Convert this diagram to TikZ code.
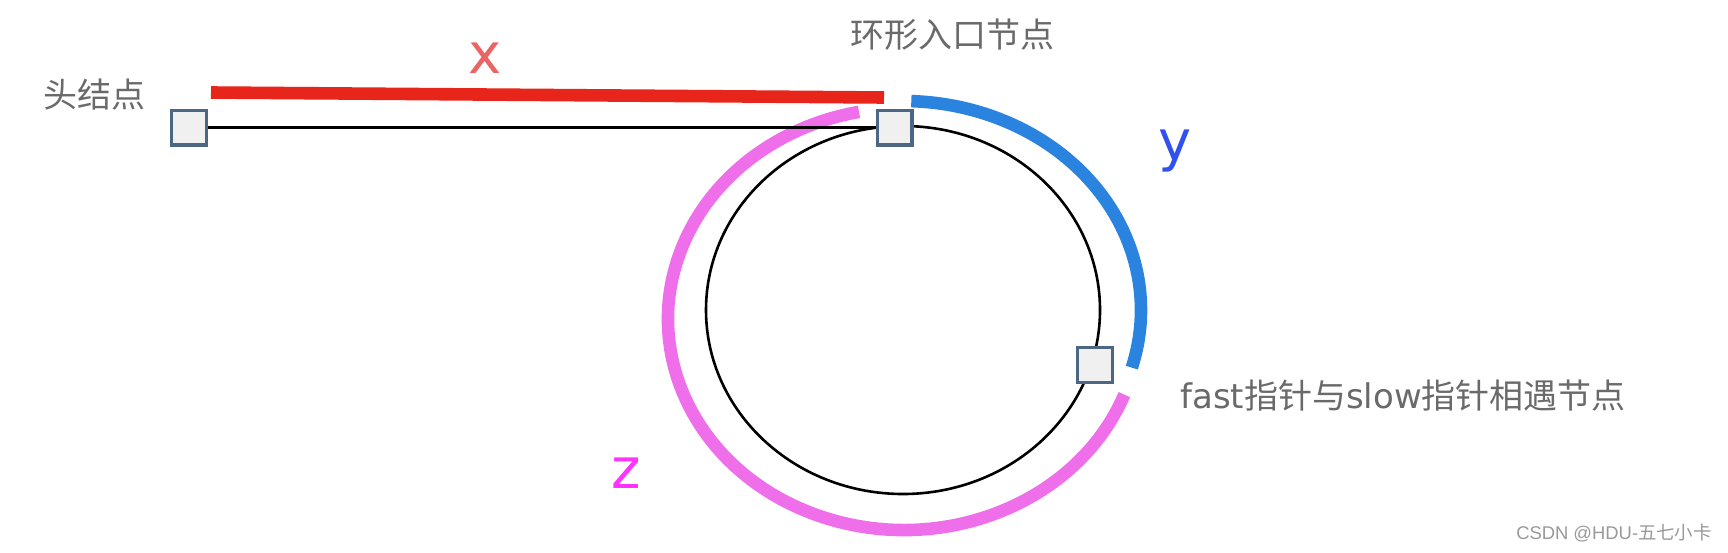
\documentclass[tikz,border=0pt]{standalone}
\usepackage{fontspec}
\setmainfont{Noto Sans CJK SC}
\newfontfamily\cjkfont{Noto Sans CJK SC}
\newfontfamily\dejavu{DejaVu Sans}
\newfontfamily\wmfont{Liberation Sans}
\definecolor{redline}{HTML}{E8251A}
\definecolor{blueline}{HTML}{2A84DF}
\definecolor{pinkline}{HTML}{EF6FEA}
\definecolor{xlab}{HTML}{EB6464}
\definecolor{ylab}{HTML}{3050F0}
\definecolor{zlab}{HTML}{FF33FF}
\definecolor{txt}{HTML}{6A6A6A}
\definecolor{wmtxt}{HTML}{999999}
\definecolor{boxedge}{HTML}{4B6784}
\definecolor{boxfill}{HTML}{F0F0F0}
\begin{document}
\begin{tikzpicture}[x=0.5pt,y=-0.5pt,
  sq/.style={draw=boxedge,fill=boxfill,line width=1.7pt,minimum size=17.3pt,inner sep=0pt},
  lbl/.style={text=txt,font=\fontsize{17}{20}\selectfont,inner sep=0pt},
  letter/.style={font=\dejavu\fontsize{28}{32}\selectfont,inner sep=0pt,anchor=base},
  band/.style={line width=6.3pt},
  ring/.style={line width=1.3pt,black}]
\useasboundingbox (0,0) rectangle (1728,552);
\coordinate (c) at (903,310);
\coordinate (cp) at (904,319);
\coordinate (xs) at (211,92.5);
\coordinate (xe) at (884,97.5);
% loop
\draw[ring] (c) ellipse [x radius=197, y radius=184];
% z arc
\draw[band,pinkline] (cp) ++(21:236 and 211) arc[start angle=21, end angle=259, x radius=236, y radius=211];
% y arc
\draw[band,blueline] (c) ++(-88:238 and 209) arc[start angle=-88, end angle=16, x radius=238, y radius=209];
% x bar
\draw[band,redline] (xs) -- (xe);
% nodes
\node[sq] (head) at (189,127.5) {};
\node[sq] (entry) at (894.5,127.5) {};
\node[sq] (meet) at (1095,365) {};
\draw[ring] (head) -- (entry);
% labels
\node[lbl] (headlbl) at (94,95) {头结点};
\node[lbl] (entrylbl) at (952,35) {环形入口节点};
\node[lbl] (meetlbl) at (1403,396) {{\dejavu fast}指针与{\dejavu slow}指针相遇节点};
\node[letter,text=xlab] (xl) at (485,73) {x};
\node[letter,text=ylab] (yl) at (1175,160) {y};
\node[letter,text=zlab] (zl) at (626,488) {z};
\node[text=wmtxt,inner sep=0pt,font=\wmfont\fontsize{9.2}{11}\selectfont] (wm) at (1614,533) {CSDN @HDU-{\cjkfont 五七小卡}};
\end{tikzpicture}
\end{document}
